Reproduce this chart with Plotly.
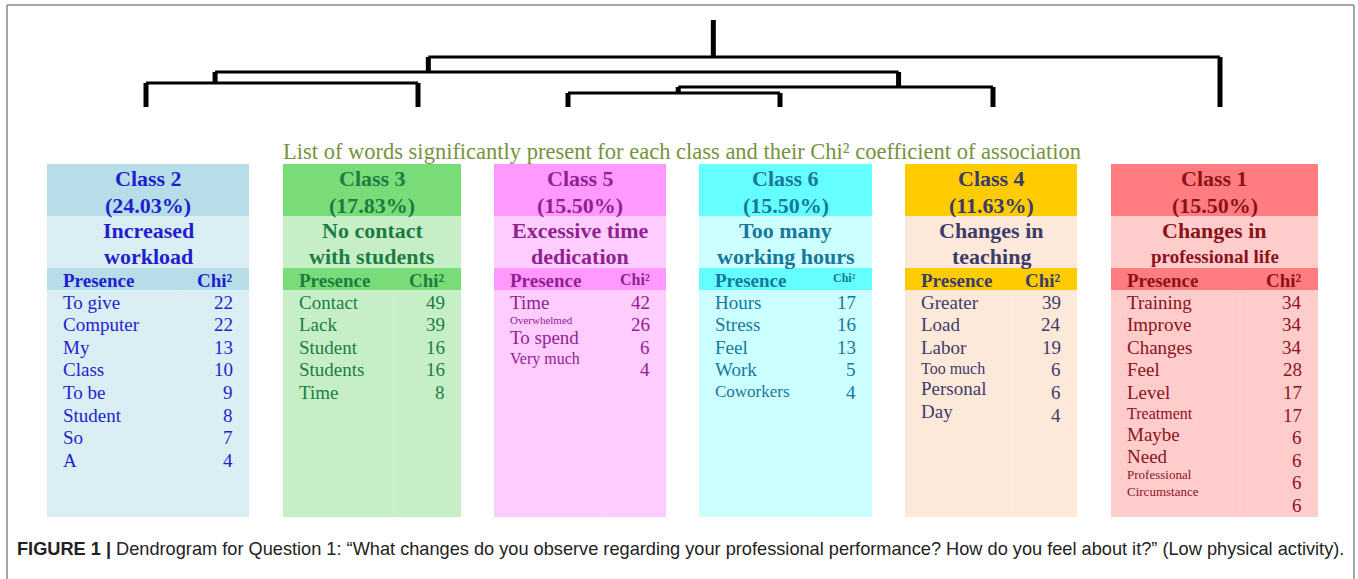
import plotly.graph_objects as go

W, H = 1358, 579

# classes, left to right in dendrogram order
class_names = ["Class 2", "Class 3", "Class 5", "Class 6", "Class 4", "Class 1"]
class_pct = ["(24.03%)", "(17.83%)", "(15.50%)", "(15.50%)", "(11.63%)", "(15.50%)"]
class_title1 = ["Increased", "No contact", "Excessive time", "Too many", "Changes in", "Changes in"]
class_title2 = ["workload", "with students", "dedication", "working hours", "teaching", "professional life"]

words_c2 = ["To give", "Computer", "My", "Class", "To be", "Student", "So", "A"]
chi_c2 = [22, 22, 13, 10, 9, 8, 7, 4]
words_c3 = ["Contact", "Lack", "Student", "Students", "Time"]
chi_c3 = [49, 39, 16, 16, 8]
words_c5 = ["Time", "Overwhelmed", "To spend", "Very much"]
chi_c5 = [42, 26, 6, 4]
words_c6 = ["Hours", "Stress", "Feel", "Work", "Coworkers"]
chi_c6 = [17, 16, 13, 5, 4]
words_c4 = ["Greater", "Load", "Labor", "Too much", "Personal", "Day"]
chi_c4 = [39, 24, 19, 6, 6, 4]
words_c1 = ["Training", "Improve", "Changes", "Feel", "Level", "Treatment", "Maybe", "Need",
            "Professional<br>Circumstance"]
chi_c1 = [34, 34, 34, 28, 17, 17, 6, 6, 6, 6]

all_words = [words_c2, words_c3, words_c5, words_c6, words_c4, words_c1]
all_chi = [chi_c2, chi_c3, chi_c5, chi_c6, chi_c4, chi_c1]

# dendrogram: leaf positions, merges (left node, right node, height, where the parent link sits)
leaf_x = [146, 418, 568, 780, 993, 1220]
merge_left = [2, 6, 0, 8, 9]
merge_right = [3, 4, 1, 7, 5]
merge_height = [14, 20, 24, 35, 50]
link_frac = [0.52, 0.70, 0.254, 0.312, 0.36]
root_height = 87

# styles
header_fill = ["#b7dee8", "#79dc79", "#ff99ff", "#66ffff", "#ffcc00", "#ff7c80"]
body_fill = ["#daeef3", "#c6efc8", "#ffccff", "#ccffff", "#fde9d9", "#ffcccc"]
text_col = ["#1f1fd0", "#1b7d3f", "#911f91", "#17789c", "#3d3b69", "#8c1219"]
box_left = [47, 283, 494, 699, 905, 1111]
box_right = [249, 461, 666, 872, 1077, 1318]
divider = [182, 393, 601, 820, 1012, 1240]
small_words = {"Overwhelmed": 11, "Very much": 16, "Too much": 16, "Treatment": 16,
               "Coworkers": 17, "Professional<br>Circumstance": 13}
chi_head_size = [19, 19, 16, 12, 19, 19]
serif = "Liberation Serif"

fig = go.Figure()

# invisible trace so the page-sized x/y subplot exists for the tables
fig.add_trace(go.Scatter(x=[0, W], y=[0, H], mode="markers", marker=dict(opacity=0),
                         hoverinfo="skip", showlegend=False))

# ---- dendrogram ----
node_x = list(leaf_x)
node_h = [0] * len(leaf_x)
hx, hy, vx, vy = [], [], [], []
for l, r, h, f in zip(merge_left, merge_right, merge_height, link_frac):
    xl, xr = node_x[l], node_x[r]
    hx += [xl, xr, None]
    hy += [h, h, None]
    for c in (l, r):
        vx += [node_x[c], node_x[c], None]
        vy += [node_h[c], h, None]
    node_x.append(xl + f * (xr - xl))
    node_h.append(h)
vx += [node_x[-1], node_x[-1], None]
vy += [node_h[-1], root_height, None]

fig.add_trace(go.Scatter(x=hx, y=hy, mode="lines", line=dict(color="black", width=3),
                         yaxis="y2", hoverinfo="skip", showlegend=False))
fig.add_trace(go.Scatter(x=vx, y=vy, mode="lines", line=dict(color="black", width=5),
                         yaxis="y2", hoverinfo="skip", showlegend=False))

# ---- tables ----
shapes = []
ann = []
y_top, y_head, y_sub, y_pres, y_bot = 164, 216, 268, 290, 517
row0, row_h = 302, 22.6
for i in range(len(class_names)):
    x0, x1 = box_left[i], box_right[i]
    xc = (x0 + x1) / 2
    col = text_col[i]
    shapes.append(dict(type="rect", x0=x0, x1=x1, y0=y_top, y1=y_bot, fillcolor=body_fill[i],
                       line_width=0, layer="below"))
    for a, b in ((y_top, y_head), (y_sub, y_pres)):
        shapes.append(dict(type="rect", x0=x0, x1=x1, y0=a, y1=b, fillcolor=header_fill[i],
                           line_width=0, layer="below"))
    shapes.append(dict(type="line", x0=divider[i], x1=divider[i], y0=y_pres, y1=y_bot,
                       line=dict(color="rgba(255,255,255,0.15)", width=1), layer="below"))

    def txt(x, y, s, size, anchor="center", bold=False):
        ann.append(dict(x=x, y=y, text=f"<b>{s}</b>" if bold else s, showarrow=False,
                        xanchor=anchor, yanchor="middle", align=anchor,
                        font=dict(family=serif, size=size, color=col)))

    txt(xc, 178, class_names[i], 22, bold=True)
    txt(xc, 205, class_pct[i], 22, bold=True)
    txt(xc, 230, class_title1[i], 22, bold=True)
    txt(xc, 256, class_title2[i], 19 if len(class_title2[i]) > 14 else 22, bold=True)
    txt(x0 + 14, 280, "Presence", 19, "left", bold=True)
    txt(x1 - 14, 280 - (19 - chi_head_size[i]) * 0.3, "Chi\u00b2", chi_head_size[i], "right", bold=True)

    # words flow with their own line heights, values sit on a regular grid
    y = row0
    prev = None
    for w in all_words[i]:
        size = small_words.get(w, 19)
        lh = 1.19 * size * (w.count("<br>") + 1)
        if prev is not None:
            y += (prev + lh) / 2
        txt(x0 + 14, y, w, size, "left")
        prev = lh
    for k, v in enumerate(all_chi[i]):
        txt(x1 - 14, row0 + k * row_h, str(v), 19, "right")

ann.append(dict(x=682, y=151, showarrow=False, xanchor="center", yanchor="middle",
                text="List of words significantly present for each class and their Chi\u00b2 coefficient of association",
                font=dict(family=serif, size=22.5, color="#76923c")))
ann.append(dict(x=15, y=549, showarrow=False, xanchor="left", yanchor="middle",
                text="<b>FIGURE 1 |</b> Dendrogram for Question 1: \u201cWhat changes do you observe regarding your "
                     "professional performance? How do you feel about it?\u201d (Low physical activity).",
                font=dict(family="Liberation Sans", size=18.2, color="#222222")))

# outer frame
for a in (dict(x0=7, x1=7, y0=5, y1=H), dict(x0=7, x1=1354, y0=5, y1=5), dict(x0=1354, x1=1354, y0=5, y1=H)):
    shapes.append(dict(type="line", line=dict(color="#8a8a8a", width=1.5), **a))

fig.update_layout(
    width=W, height=H, margin=dict(l=0, r=0, t=0, b=0),
    paper_bgcolor="white", plot_bgcolor="white",
    xaxis=dict(range=[0, W], visible=False, fixedrange=True),
    yaxis=dict(range=[H, 0], visible=False, fixedrange=True),
    yaxis2=dict(domain=[1 - 107 / H, 1], range=[0, 107], visible=False, fixedrange=True,
                anchor="x"),
    shapes=shapes, annotations=ann, showlegend=False,
)
fig.write_html("out.html", config={"displayModeBar": False},
               post_script="document.body.style.margin='0';")
